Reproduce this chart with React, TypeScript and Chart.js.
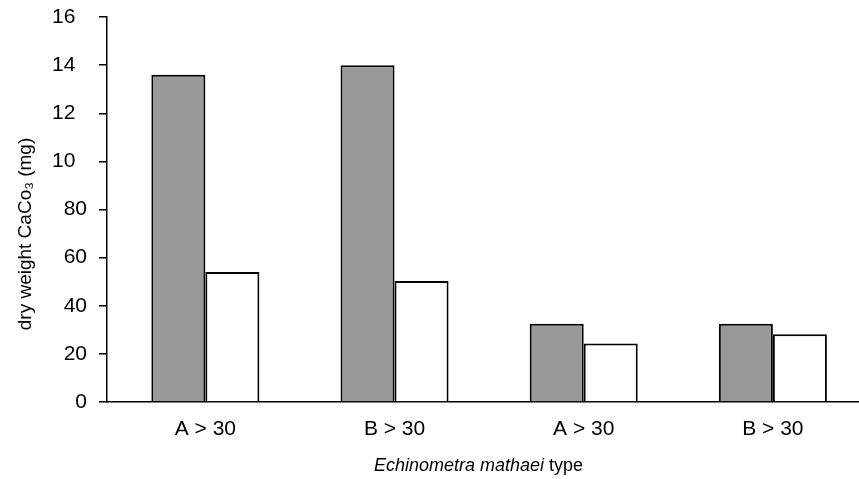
import React, { useEffect, useRef } from "react";
import { Chart, registerables } from "chart.js";
Chart.register(...registerables);

const categories = ["A > 30", "B > 30", "A > 30", "B > 30"];
const seriesGray = [136, 140, 32.5, 32.5];
const seriesWhite = [54, 50.3, 24.3, 28.2];
// upper labels look clipped (last digit missing) in the original
const yTickLabels = ["0", "20", "40", "60", "80", "10\u2007", "12\u2007", "14\u2007", "16\u2007"];
const yTitle = "dry weight CaCo\u2083 (mg)";
const xTitleItalic = "Echinometra mathaei";
const xTitleRest = " type";

const FONT = "'Liberation Sans', Arial, sans-serif";

const titlesPlugin = {
  id: "titles",
  afterDraw(chart: any) {
    const ctx = chart.ctx;
    const area = chart.chartArea;
    const cx = (area.left + area.right) / 2 - 4;
    const y = 466;
    ctx.save();
    ctx.fillStyle = "#000";
    ctx.textBaseline = "middle";
    const italicFont = "italic 18px " + FONT;
    const normalFont = "18px " + FONT;
    ctx.font = italicFont;
    const w1 = ctx.measureText(xTitleItalic).width;
    ctx.font = normalFont;
    const w2 = ctx.measureText(xTitleRest).width;
    const start = cx - (w1 + w2) / 2;
    ctx.textAlign = "left";
    ctx.font = italicFont;
    ctx.fillText(xTitleItalic, start, y);
    ctx.font = normalFont;
    ctx.fillText(xTitleRest, start + w1, y);
    ctx.restore();

    ctx.save();
    ctx.fillStyle = "#000";
    ctx.font = "19px " + FONT;
    ctx.textAlign = "center";
    ctx.textBaseline = "middle";
    ctx.translate(26, 234);
    ctx.rotate(-Math.PI / 2);
    ctx.fillText(yTitle, 0, 0);
    ctx.restore();
  },
};

export default function App() {
  const ref = useRef<HTMLCanvasElement>(null);
  useEffect(() => {
    document.body.style.margin = "0";
    const canvas = ref.current!;
    const chart = new Chart(canvas, {
      type: "bar",
      data: {
        datasets: [
          {
            data: seriesGray.map((v, i) => ({ x: i, y: v })),
            backgroundColor: "#999999",
            borderColor: "#000000",
            borderWidth: 2,
            categoryPercentage: 0.571,
            barPercentage: 1,
          },
          {
            data: seriesWhite.map((v, i) => ({ x: i, y: v })),
            backgroundColor: "#ffffff",
            borderColor: "#000000",
            borderWidth: 2,
            categoryPercentage: 0.571,
            barPercentage: 1,
          },
        ],
      },
      options: {
        animation: false,
        responsive: false,
        maintainAspectRatio: false,
        layout: { padding: { top: 17, right: 1, left: 0, bottom: 0 } },
        plugins: {
          legend: { display: false },
          tooltip: { enabled: false },
        },
        scales: {
          x: {
            type: "linear",
            offset: false,
            min: -0.52,
            max: 3.45,
            grid: { display: false, drawTicks: false, offset: false },
            border: { color: "#000", width: 1.5 },
            afterBuildTicks: (scale: any) => {
              scale.ticks = categories.map((_, i) => ({ value: i }));
            },
            afterFit: (scale: any) => {
              scale.height = 77;
              scale.paddingLeft = 0;
              scale.paddingRight = 0;
            },
            ticks: {
              padding: 15,
              color: "#000",
              font: { family: FONT, size: 21 },
              callback: (v: any) => categories[Math.round(Number(v))] ?? "",
              maxRotation: 0,
              autoSkip: false,
            },
          },
          y: {
            min: 0,
            max: 160,
            grid: { drawOnChartArea: false, drawTicks: true, tickLength: 8, color: "#000", lineWidth: 1.5 },
            border: { color: "#000", width: 1.5 },
            afterFit: (scale: any) => {
              scale.width = 107;
              scale.paddingTop = 0;
              scale.paddingBottom = 0;
            },
            ticks: {
              stepSize: 20,
              padding: 12,
              color: "#000",
              font: { family: FONT, size: 21 },
              callback: (v: any) => yTickLabels[Math.round(Number(v) / 20)] ?? "",
            },
          },
        },
      },
      plugins: [titlesPlugin],
    } as any);
    return () => chart.destroy();
  }, []);
  return (
    <div style={{ width: 859, height: 479 }}>
      <canvas ref={ref} width={859} height={479} style={{ width: 859, height: 479, display: "block" }} />
    </div>
  );
}
